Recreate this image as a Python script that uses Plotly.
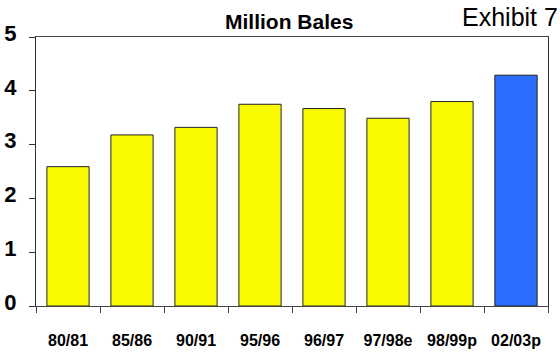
import plotly.graph_objects as go

seasons = ["80/81", "85/86", "90/91", "95/96", "96/97", "97/98e", "98/99p", "02/03p"]
bales = [2.59, 3.18, 3.32, 3.75, 3.67, 3.49, 3.80, 4.29]
colors = ["#FAFA00"] * 7 + ["#2B6EFF"]
y_ticks = [0, 1, 2, 3, 4, 5]

# plot area in pixels: x 36..548, y 37..306
PL, PR, PT, PB = 36, 548, 37, 306


def px_x(x):
    return (x - PL) / (PR - PL)


def px_y(y):
    return (PB - y) / (PB - PT)


fig = go.Figure(
    go.Bar(
        x=seasons,
        y=bales,
        width=0.66,
        marker=dict(color=colors, line=dict(color="#222222", width=1)),
    )
)

fig.update_layout(
    width=560,
    height=354,
    margin=dict(l=PL, r=560 - PR, t=PT, b=354 - PB),
    paper_bgcolor="white",
    plot_bgcolor="white",
    showlegend=False,
    font=dict(family="Liberation Sans, Arial, sans-serif", color="black"),
    annotations=[
        dict(text="<b>Million Bales</b>", x=px_x(289), y=px_y(21), xref="paper", yref="paper",
             showarrow=False, font=dict(size=21), xanchor="center", yanchor="middle"),
        dict(text="Exhibit 7", x=px_x(560), y=px_y(17), xref="paper", yref="paper",
             showarrow=False, font=dict(size=25), xanchor="right", yanchor="middle"),
    ],
)

fig.update_xaxes(
    type="category",
    range=[-0.5, 7.5],
    automargin=False,
    showline=True,
    linecolor="#444444",
    linewidth=1,
    mirror=True,
    ticks="outside",
    tickson="boundaries",
    ticklen=6,
    tickcolor="#444444",
    tickfont=dict(size=16),
    ticklabelstandoff=20,
    tickprefix="<b>",
    ticksuffix="</b>",
    showgrid=False,
)
fig.update_yaxes(
    range=[0, 5],
    automargin=False,
    tickvals=y_ticks,
    ticktext=[f"<b>{v}</b>" for v in y_ticks],
    showline=True,
    linecolor="#333333",
    linewidth=1,
    mirror=True,
    ticks="outside",
    ticklen=6,
    tickcolor="#333333",
    tickfont=dict(size=22),
    ticklabelstandoff=8,
    ticklabelshift=-4,
    showgrid=False,
    zeroline=False,
)

fig.write_html("out.html")
